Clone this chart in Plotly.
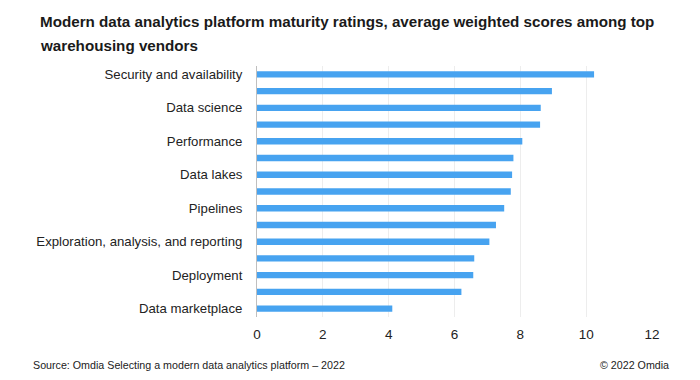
import plotly.graph_objects as go

# Categories top-to-bottom (only every other label is displayed in the original)
labels = [
    "Security and availability", "",
    "Data science", "",
    "Performance", "",
    "Data lakes", "",
    "Pipelines", "",
    "Exploration, analysis, and reporting", "",
    "Deployment", "",
    "Data marketplace",
]
scores = [10.24, 8.96, 8.62, 8.60, 8.06, 7.79, 7.75, 7.71,
          7.51, 7.26, 7.06, 6.60, 6.57, 6.21, 4.11]
x_ticks = [0, 2, 4, 6, 8, 10, 12]

positions = list(range(len(scores)))

FONT = "Liberation Sans"
W, H = 700, 380
ML, MR, MT, MB = 249, 56, 58, 71
PW, PH = W - ML - MR, H - MT - MB


def px(x):
    return (x - ML) / PW


def py(y):
    return 1 - (y - MT) / PH


fig = go.Figure(
    go.Bar(
        x=scores,
        y=positions,
        orientation="h",
        marker=dict(color="#47A3F0", line=dict(width=0)),
        width=0.38,
        hoverinfo="x",
    )
)

title_lines = [
    "Modern data analytics platform maturity ratings, average weighted scores among top",
    "warehousing vendors",
]

annotations = []
for i, line in enumerate(title_lines):
    annotations.append(dict(
        text="<b>" + line + "</b>",
        xref="paper", yref="paper",
        x=px(30), y=py(14 + 23 * i),
        xanchor="left", yanchor="middle",
        align="left", showarrow=False,
        font=dict(size=15.2, family=FONT, color="#1a1a1a"),
    ))
annotations += [
    dict(
        text="Source: Omdia Selecting a modern data analytics platform – 2022",
        xref="paper", yref="paper",
        x=px(23), y=py(357),
        xanchor="left", yanchor="middle",
        showarrow=False,
        font=dict(size=10.7, family=FONT, color="#222222"),
    ),
    dict(
        text="© 2022 Omdia",
        xref="paper", yref="paper",
        x=px(663), y=py(357),
        xanchor="right", yanchor="middle",
        showarrow=False,
        font=dict(size=10.7, family=FONT, color="#222222"),
    ),
]

fig.update_layout(
    width=W,
    height=H,
    paper_bgcolor="white",
    plot_bgcolor="white",
    margin=dict(l=ML, r=MR, t=MT, b=MB, autoexpand=False),
    showlegend=False,
    font=dict(family=FONT, color="#222222"),
    xaxis=dict(
        range=[0, 12],
        tickvals=x_ticks,
        ticktext=[str(v) for v in x_ticks],
        showgrid=True,
        gridcolor="#ededed",
        gridwidth=1,
        zeroline=False,
        showline=False,
        ticks="",
        tickfont=dict(size=13.5, family=FONT, color="#222222"),
        ticklabelstandoff=7,
        automargin=False,
        fixedrange=True,
    ),
    yaxis=dict(
        range=[len(scores) - 0.5, -0.5],
        tickvals=positions,
        ticktext=labels,
        showgrid=False,
        zeroline=False,
        showline=True,
        linecolor="#bfbfbf",
        linewidth=1,
        ticks="",
        tickfont=dict(size=13.2, family=FONT, color="#222222"),
        ticklabelstandoff=11,
        automargin=False,
        fixedrange=True,
    ),
    annotations=annotations,
)

fig.write_html("out.html")
